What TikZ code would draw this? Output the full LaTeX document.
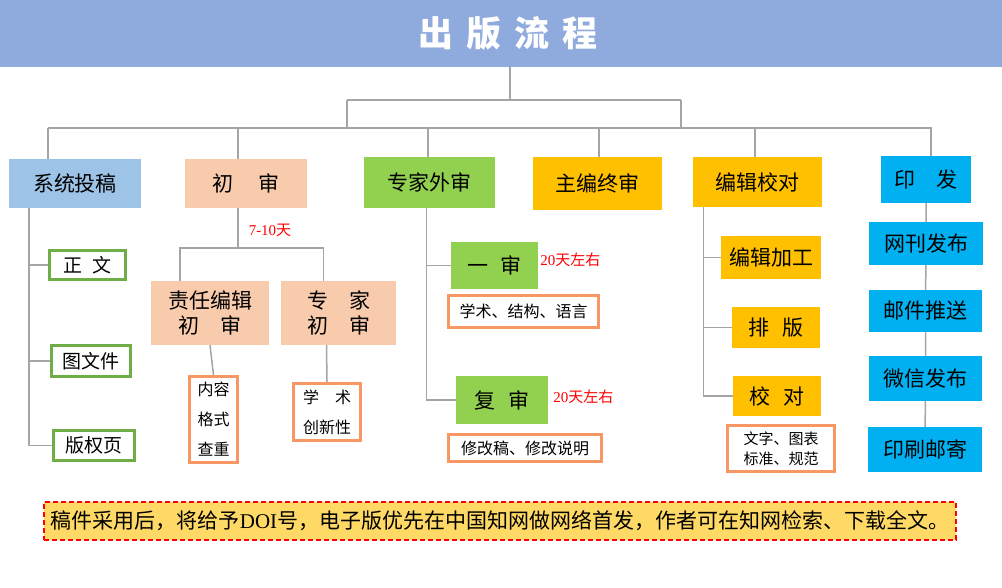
\documentclass[tikz,border=0pt]{standalone}
\usepackage{fontspec}
\setmainfont{Noto Sans CJK SC}
\newfontfamily\serif{Liberation Serif}
\definecolor{barblue}{HTML}{8FAADC}
\definecolor{skyblue}{HTML}{9DC3E6}
\definecolor{peach}{HTML}{F8CBAD}
\definecolor{leaf}{HTML}{92D050}
\definecolor{gold}{HTML}{FFC000}
\definecolor{cyan}{HTML}{00B0F0}
\definecolor{grn}{HTML}{70AD47}
\definecolor{orng}{RGB}{248,150,100}
\definecolor{notebg}{HTML}{FFD966}
\definecolor{linkgray}{RGB}{165,165,165}
\begin{document}
\begin{tikzpicture}[x=1pt,y=-1pt,
	box/.style={inner sep=0pt,align=center,font=\fontsize{21}{25}\selectfont},
	sz/.style 2 args={minimum width=#1pt,minimum height=#2pt},
	gbox/.style={box,draw=grn,line width=3pt,fill=white,font=\fontsize{19}{22}\selectfont},
	obox/.style={box,draw=orng,line width=3pt,fill=white,font=\fontsize{16}{30}\selectfont},
	days/.style={text=red,inner sep=0pt,font=\fontsize{15}{18}\selectfont},
	link/.style={draw=linkgray,line width=1.5pt}]
	\useasboundingbox (0,0) rectangle (1002,587);
	% title
	\node[fill=barblue,sz={1002}{67},inner sep=0pt,text=white,font=\fontsize{35}{36}\selectfont\bfseries] (title) at (501,33.5) {\hspace{14pt}出\hspace{13pt}版\hspace{13pt}流\hspace{13pt}程};
	% main steps
	\node[box,fill=skyblue,sz={132}{49}] (tg) at (75,183.5) {系统投稿};
	\node[box,fill=peach,sz={122}{49}] (cs) at (246,183.5) {初\hspace{1.2em}审};
	\node[box,fill=leaf,sz={131}{51}] (zj) at (429.5,182.5) {专家外审};
	\node[box,fill=gold,sz={129}{53}] (zb) at (597.5,183.5) {主编终审};
	\node[box,fill=gold,sz={129}{50}] (bj) at (757.5,182) {编辑校对};
	\node[box,fill=cyan,sz={90}{47}] (yf) at (926,179.5) {印\hspace{1em}发};
	% submission
	\node[gbox,sz={76}{29}] (zw) at (87.5,265) {正\hspace{0.5em}文};
	\node[gbox,sz={79}{31}] (twj) at (91,361) {图文件};
	\node[gbox,sz={81}{30}] (bqy) at (94,445.5) {版权页};
	% first review
	\node[box,fill=peach,sz={118}{64}] (zr) at (210,313) {责任编辑\\初\hspace{1em}审};
	\node[box,fill=peach,sz={115}{64}] (zjc) at (338.5,313) {专\hspace{1em}家\\初\hspace{1em}审};
	\node[days] (d710) at (270,230) {{\serif 7-10}天};
	\node[obox,sz={48}{86}] (nrgs) at (213.5,419.5) {内容\\格式\\查重};
	\node[obox,sz={67}{57}] (xs) at (327,412) {学\hspace{1em}术\\创新性};
	% peer review
	\node[box,fill=leaf,sz={87}{47}] (ys) at (494.5,265.5) {一\hspace{0.6em}审};
	\node[days,anchor=west] (d20a) at ([xshift=2pt,yshift=6pt]ys.east) {{\serif 20}天左右};
	\node[obox,sz={150}{32},font=\fontsize{16}{20}\selectfont] (xjy) at (523.5,311.5) {学术、结构、语言};
	\node[box,fill=leaf,sz={92}{48}] (fs) at (502,400) {复\hspace{0.6em}审};
	\node[days,anchor=west] (d20b) at ([xshift=5pt,yshift=3pt]fs.east) {{\serif 20}天左右};
	\node[obox,sz={153}{27},font=\fontsize{16}{20}\selectfont] (xgg) at (525,448) {修改稿、修改说明};
	% editing
	\node[box,fill=gold,sz={100}{43}] (bjjg) at (771,257.5) {编辑加工};
	\node[box,fill=gold,sz={88}{41}] (pb) at (776,327.5) {排\hspace{0.6em}版};
	\node[box,fill=gold,sz={88}{40}] (jd) at (777,396) {校\hspace{0.6em}对};
	\node[obox,sz={107}{46},font=\fontsize{15}{20}\selectfont] (wz) at (781,448.5) {文字、图表\\标准、规范};
	% publishing
	\node[box,fill=cyan,sz={114}{43}] (wk) at (926,243.5) {网刊发布};
	\node[box,fill=cyan,sz={113}{42}] (yj) at (925.5,311) {邮件推送};
	\node[box,fill=cyan,sz={113}{45}] (wx) at (925.5,378.5) {微信发布};
	\node[box,fill=cyan,sz={114}{45}] (yssj) at (925,449.5) {印刷邮寄};
	% note
	\node[fill=notebg,draw=red,line width=1.5pt,dash pattern=on 5pt off 3pt,sz={912}{38},inner sep=0pt,font=\fontsize{21}{24}\selectfont] (note) at (500,521) {稿件采用后，将给予{\serif DOI}号，电子版优先在中国知网做网络首发，作者可在知网检索、下载全文。};
	% tree
	\coordinate (hub) at (510,100);
	\coordinate (hubL) at (347,100);
	\coordinate (hubR) at (681,100);
	\coordinate (busL) at (48,128);
	\coordinate (busR) at (931,128);
	\coordinate (csj) at (238,248);
	\draw[link] ([xshift=9pt]title.south) -- (hub);
	\draw[link] (hubL) -- (hubR);
	\draw[link] (hubL) -- (hubL |- busL);
	\draw[link] (hubR) -- (hubR |- busL);
	\draw[link] (busL) -- (busR);
	\draw[link] ([xshift=-27pt]tg.north) |- (busL);
	\draw[link] ([xshift=-8pt]cs.north) |- (busL);
	\draw[link] ([xshift=-1.5pt]zj.north) |- (busL);
	\draw[link] ([xshift=1.5pt]zb.north) |- (busL);
	\draw[link] ([xshift=-2.5pt]bj.north) |- (busL);
	\draw[link] ([xshift=5pt]yf.north) |- (busL);
	\draw[link] ([xshift=-46pt]tg.south) |- (zw.west);
	\draw[link] ([xshift=-46pt]tg.south) |- (twj.west);
	\draw[link] ([xshift=-46pt]tg.south) |- (bqy.west);
	\draw[link] ([xshift=-8pt]cs.south) -- (csj);
	\draw[link] ([xshift=-30pt]zr.north) |- (csj);
	\draw[link] ([xshift=-15pt]zjc.north) |- (csj);
	\draw[link] (zr.south) -- (nrgs.north);
	\draw[link] ([xshift=-12pt]zjc.south) -- (xs.north);
	\draw[link] ([xshift=-3pt]zj.south) |- (ys.west);
	\draw[link] ([xshift=-3pt]zj.south) |- (fs.west);
	\draw[link] ([xshift=-54pt]bj.south) |- (bjjg.west);
	\draw[link] ([xshift=-54pt]bj.south) |- (pb.west);
	\draw[link] ([xshift=-54pt]bj.south) |- (jd.west);
	\draw[link] (yf) -- (wk) -- (yj) -- (wx) -- (yssj);
\end{tikzpicture}
\end{document}
